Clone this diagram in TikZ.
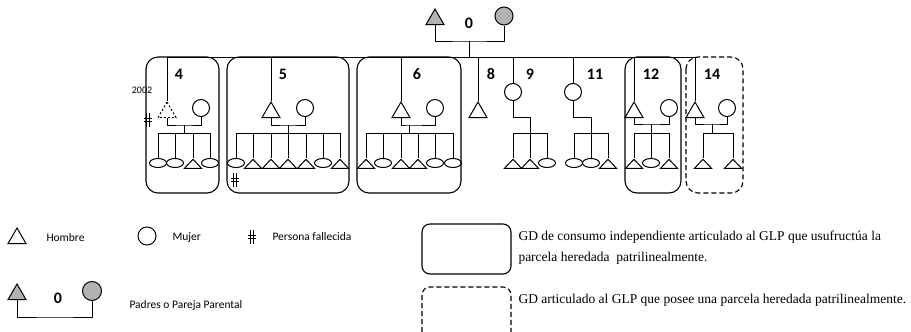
\documentclass[tikz,border=0pt]{standalone}
\usepackage{fontspec}
\setmainfont{Liberation Serif}
\setsansfont{Carlito}
\usetikzlibrary{shapes.geometric}

\tikzstyle{man} = [draw=black,regular polygon,regular polygon sides=3,inner sep=0pt,minimum size=20.8pt]
\tikzstyle{woman} = [draw=black,circle,inner sep=0pt,minimum size=17pt]
\tikzstyle{son} = [draw=black,isosceles triangle,isosceles triangle stretches,shape border rotate=90,inner sep=0pt,minimum width=17pt,minimum height=9pt]
\tikzstyle{daughter} = [draw=black,ellipse,inner sep=0pt,minimum width=17pt,minimum height=9pt]
\tikzstyle{edge} = [draw=black]
\tikzstyle{gdbox} = [draw=black,line width=1.1pt,rounded corners=12pt]
\tikzstyle{num} = [font=\sffamily\bfseries\fontsize{16}{16}\selectfont,inner sep=0pt]
\tikzstyle{txt} = [font=\sffamily\fontsize{11.5}{13}\selectfont,inner sep=0pt,anchor=west]
\tikzstyle{note} = [font=\fontsize{13.5}{21}\selectfont,inner sep=0pt,anchor=west,align=left]
\tikzset{dead/.pic={
    \draw [line width=0.8pt] (-1.5,-7) -- (-1.5,7) (1.5,-7) -- (1.5,7)
        (-4,-1.8) -- (4,-1.8) (-4,1.8) -- (4,1.8);
}}

\begin{document}
\begin{tikzpicture}[x=1pt,y=-1pt,line width=1pt]
    \clip (0,0) rectangle (911,332);

    % parents
    \node [style=man, fill=gray!60, anchor=north] (f0) at (435,8) {};
    \node [style=woman, fill=gray!60, minimum size=18pt] (m0) at (504,16) {};
    \node [style=num] (n0) at (469,23) {0};
    \coordinate (p0) at (469,41);
    \coordinate (s0) at (469,57);
    \coordinate (s4) at (167,57);
    \coordinate (s14) at (695,57);
    \draw [style=edge] (f0.south) |- (p0) -| (m0.south);
    \draw [style=edge] (p0) -- (s0);
    \draw [style=edge] (s4) -- (s14);

    % domestic groups
    \draw [style=gdbox] (146,57) rectangle (219,193);
    \draw [style=gdbox] (227,57) rectangle (349,193);
    \draw [style=gdbox] (357,57) rectangle (461,193);
    \draw [style=gdbox] (625,57) rectangle (681,193);
    \draw [style=gdbox, dash pattern=on 5pt off 3pt] (686,57) rectangle (743,193);

    % 4
    \node [style=num] (n4) at (179,74) {4};
    \node [font=\sffamily\fontsize{10}{10}\selectfont, inner sep=0pt] (y4) at (142,90) {2002};
    \node [style=man, dash pattern=on 2pt off 2pt, anchor=north] (f4) at (167,101) {};
    \node [style=woman] (w4) at (201,108) {};
    \coordinate (c4) at (184,125);
    \coordinate (b4) at (184,133);
    \draw [style=edge] (f4.north |- s4) -- (f4.north);
    \draw [style=edge] (f4.south) |- (c4) -| (w4.south);
    \draw [style=edge] (c4) -- (b4);
    \foreach \x/\t [count=\i] in {158/daughter,175/daughter,193/son,210/daughter} {
        \node [style=\t, anchor=north] (k4\i) at (\x,158) {};
        \draw [style=edge] (k4\i.north |- b4) -- (k4\i.north);
    }
    \draw [style=edge] (k41.north |- b4) -- (k44.north |- b4);
    \pic at (148,120) {dead};

    % 5
    \node [style=num] (n5) at (283,74) {5};
    \node [style=man, anchor=north] (f5) at (271,101) {};
    \node [style=woman] (w5) at (305,108) {};
    \coordinate (c5) at (288,125);
    \coordinate (b5) at (288,133);
    \draw [style=edge] (f5.north |- s4) -- (f5.north);
    \draw [style=edge] (f5.south) |- (c5) -| (w5.south);
    \draw [style=edge] (c5) -- (b5);
    \foreach \x/\t [count=\i] in {236/daughter,253/son,271/son,288/son,306/son,323/daughter,340/son} {
        \node [style=\t, anchor=north] (k5\i) at (\x,158) {};
        \draw [style=edge] (k5\i.north |- b5) -- (k5\i.north);
    }
    \draw [style=edge] (k51.north |- b5) -- (k57.north |- b5);
    \pic at (235,180) {dead};

    % 6
    \node [style=num] (n6) at (417,74) {6};
    \node [style=man, anchor=north] (f6) at (401,101) {};
    \node [style=woman] (w6) at (435,108) {};
    \coordinate (c6) at (409,125);
    \coordinate (b6) at (409,133);
    \draw [style=edge] (f6.north |- s4) -- (f6.north);
    \draw [style=edge] (f6.south) |- (c6) -| (w6.south);
    \draw [style=edge] (c6) -- (b6);
    \foreach \x/\t [count=\i] in {366/son,383/daughter,401/son,418/son,435/daughter,453/daughter} {
        \node [style=\t, anchor=north] (k6\i) at (\x,158) {};
        \draw [style=edge] (k6\i.north |- b6) -- (k6\i.north);
    }
    \draw [style=edge] (k61.north |- b6) -- (k66.north |- b6);

    % 8
    \node [style=num] (n8) at (491,74) {8};
    \node [style=man, anchor=north] (f8) at (478,101) {};
    \draw [style=edge] (f8.north |- s4) -- (f8.north);

    % 9
    \node [style=num] (n9) at (530,74) {9};
    \node [style=woman] (w9) at (513,92) {};
    \coordinate (c9) at (530,117);
    \coordinate (b9) at (530,133);
    \draw [style=edge] (w9.north |- s4) -- (w9.north);
    \draw [style=edge] (w9.south) |- (c9) -- (b9);
    \foreach \x/\t [count=\i] in {513/son,530/son,547/daughter} {
        \node [style=\t, anchor=north] (k9\i) at (\x,158) {};
        \draw [style=edge] (k9\i.north |- b9) -- (k9\i.north);
    }
    \draw [style=edge] (k91.north |- b9) -- (k93.north |- b9);

    % 11
    \node [style=num] (n11) at (595,74) {11};
    \node [style=woman] (w11) at (573,92) {};
    \coordinate (c11) at (591,117);
    \coordinate (b11) at (591,133);
    \draw [style=edge] (w11.north |- s4) -- (w11.north);
    \draw [style=edge] (w11.south) |- (c11) -- (b11);
    \foreach \x/\t [count=\i] in {574/daughter,591/daughter,608/son} {
        \node [style=\t, anchor=north] (k11\i) at (\x,158) {};
        \draw [style=edge] (k11\i.north |- b11) -- (k11\i.north);
    }
    \draw [style=edge] (k111.north |- b11) -- (k113.north |- b11);

    % 12
    \node [style=num] (n12) at (651,74) {12};
    \node [style=man, anchor=north] (f12) at (634,101) {};
    \node [style=woman] (w12) at (669,108) {};
    \coordinate (c12) at (651,124);
    \coordinate (b12) at (651,133);
    \draw [style=edge] (f12.north |- s4) -- (f12.north);
    \draw [style=edge] (f12.south) |- (c12) -| (w12.south);
    \draw [style=edge] (c12) -- (b12);
    \foreach \x/\t [count=\i] in {634/son,651/daughter,669/son} {
        \node [style=\t, anchor=north] (k12\i) at (\x,158) {};
        \draw [style=edge] (k12\i.north |- b12) -- (k12\i.north);
    }
    \draw [style=edge] (k121.north |- b12) -- (k123.north |- b12);

    % 14
    \node [style=num] (n14) at (712,74) {14};
    \node [style=man, anchor=north] (f14) at (695,101) {};
    \node [style=woman] (w14) at (727,108) {};
    \coordinate (c14) at (712,124);
    \coordinate (b14) at (712,133);
    \draw [style=edge] (f14.north |- s4) -- (f14.north);
    \draw [style=edge] (f14.south) |- (c14) -| (w14.south);
    \draw [style=edge] (c14) -- (b14);
    \foreach \x/\t [count=\i] in {703/son,733/son} {
        \node [style=\t, anchor=north] (k14\i) at (\x,158) {};
        \draw [style=edge] (k14\i.north |- b14) -- (k14\i.north);
    }
    \draw [style=edge] (k141.north |- b14) -- (k142.north |- b14);

    % legend
    \node [style=man, anchor=north] (lm) at (17,227) {};
    \node [style=txt] (lmt) at (46,238) {Hombre};
    \node [style=woman, minimum size=18pt] (lw) at (147,236) {};
    \node [style=txt] (lwt) at (172,238) {Mujer};
    \pic at (252,237) {dead};
    \node [style=txt] (ldt) at (272,237) {Persona fallecida};

    \node [style=man, fill=gray!60, anchor=north] (lf) at (17,283) {};
    \node [style=num] (ln) at (58,298) {0};
    \node [style=woman, fill=gray!60, minimum size=19pt] (lp) at (92,291) {};
    \coordinate (lc) at (55,317);
    \draw [style=edge] (lf.south) |- (lc) -| (lp.south);
    \node [style=txt] (lpt) at (129,305) {Padres o Pareja Parental};

    \draw [style=gdbox, rounded corners=8pt] (422,224) rectangle (511,274);
    \node [style=note] (g1) at (518,248) {GD de consumo independiente articulado al GLP que usufructúa la\\parcela heredada\ \ patrilinealmente.};
    \draw [style=gdbox, rounded corners=8pt, dash pattern=on 5pt off 3pt] (422,287) rectangle (511,345);
    \node [style=note] (g2) at (518,300) {GD articulado al GLP que posee una parcela heredada patrilinealmente.};
\end{tikzpicture}
\end{document}
